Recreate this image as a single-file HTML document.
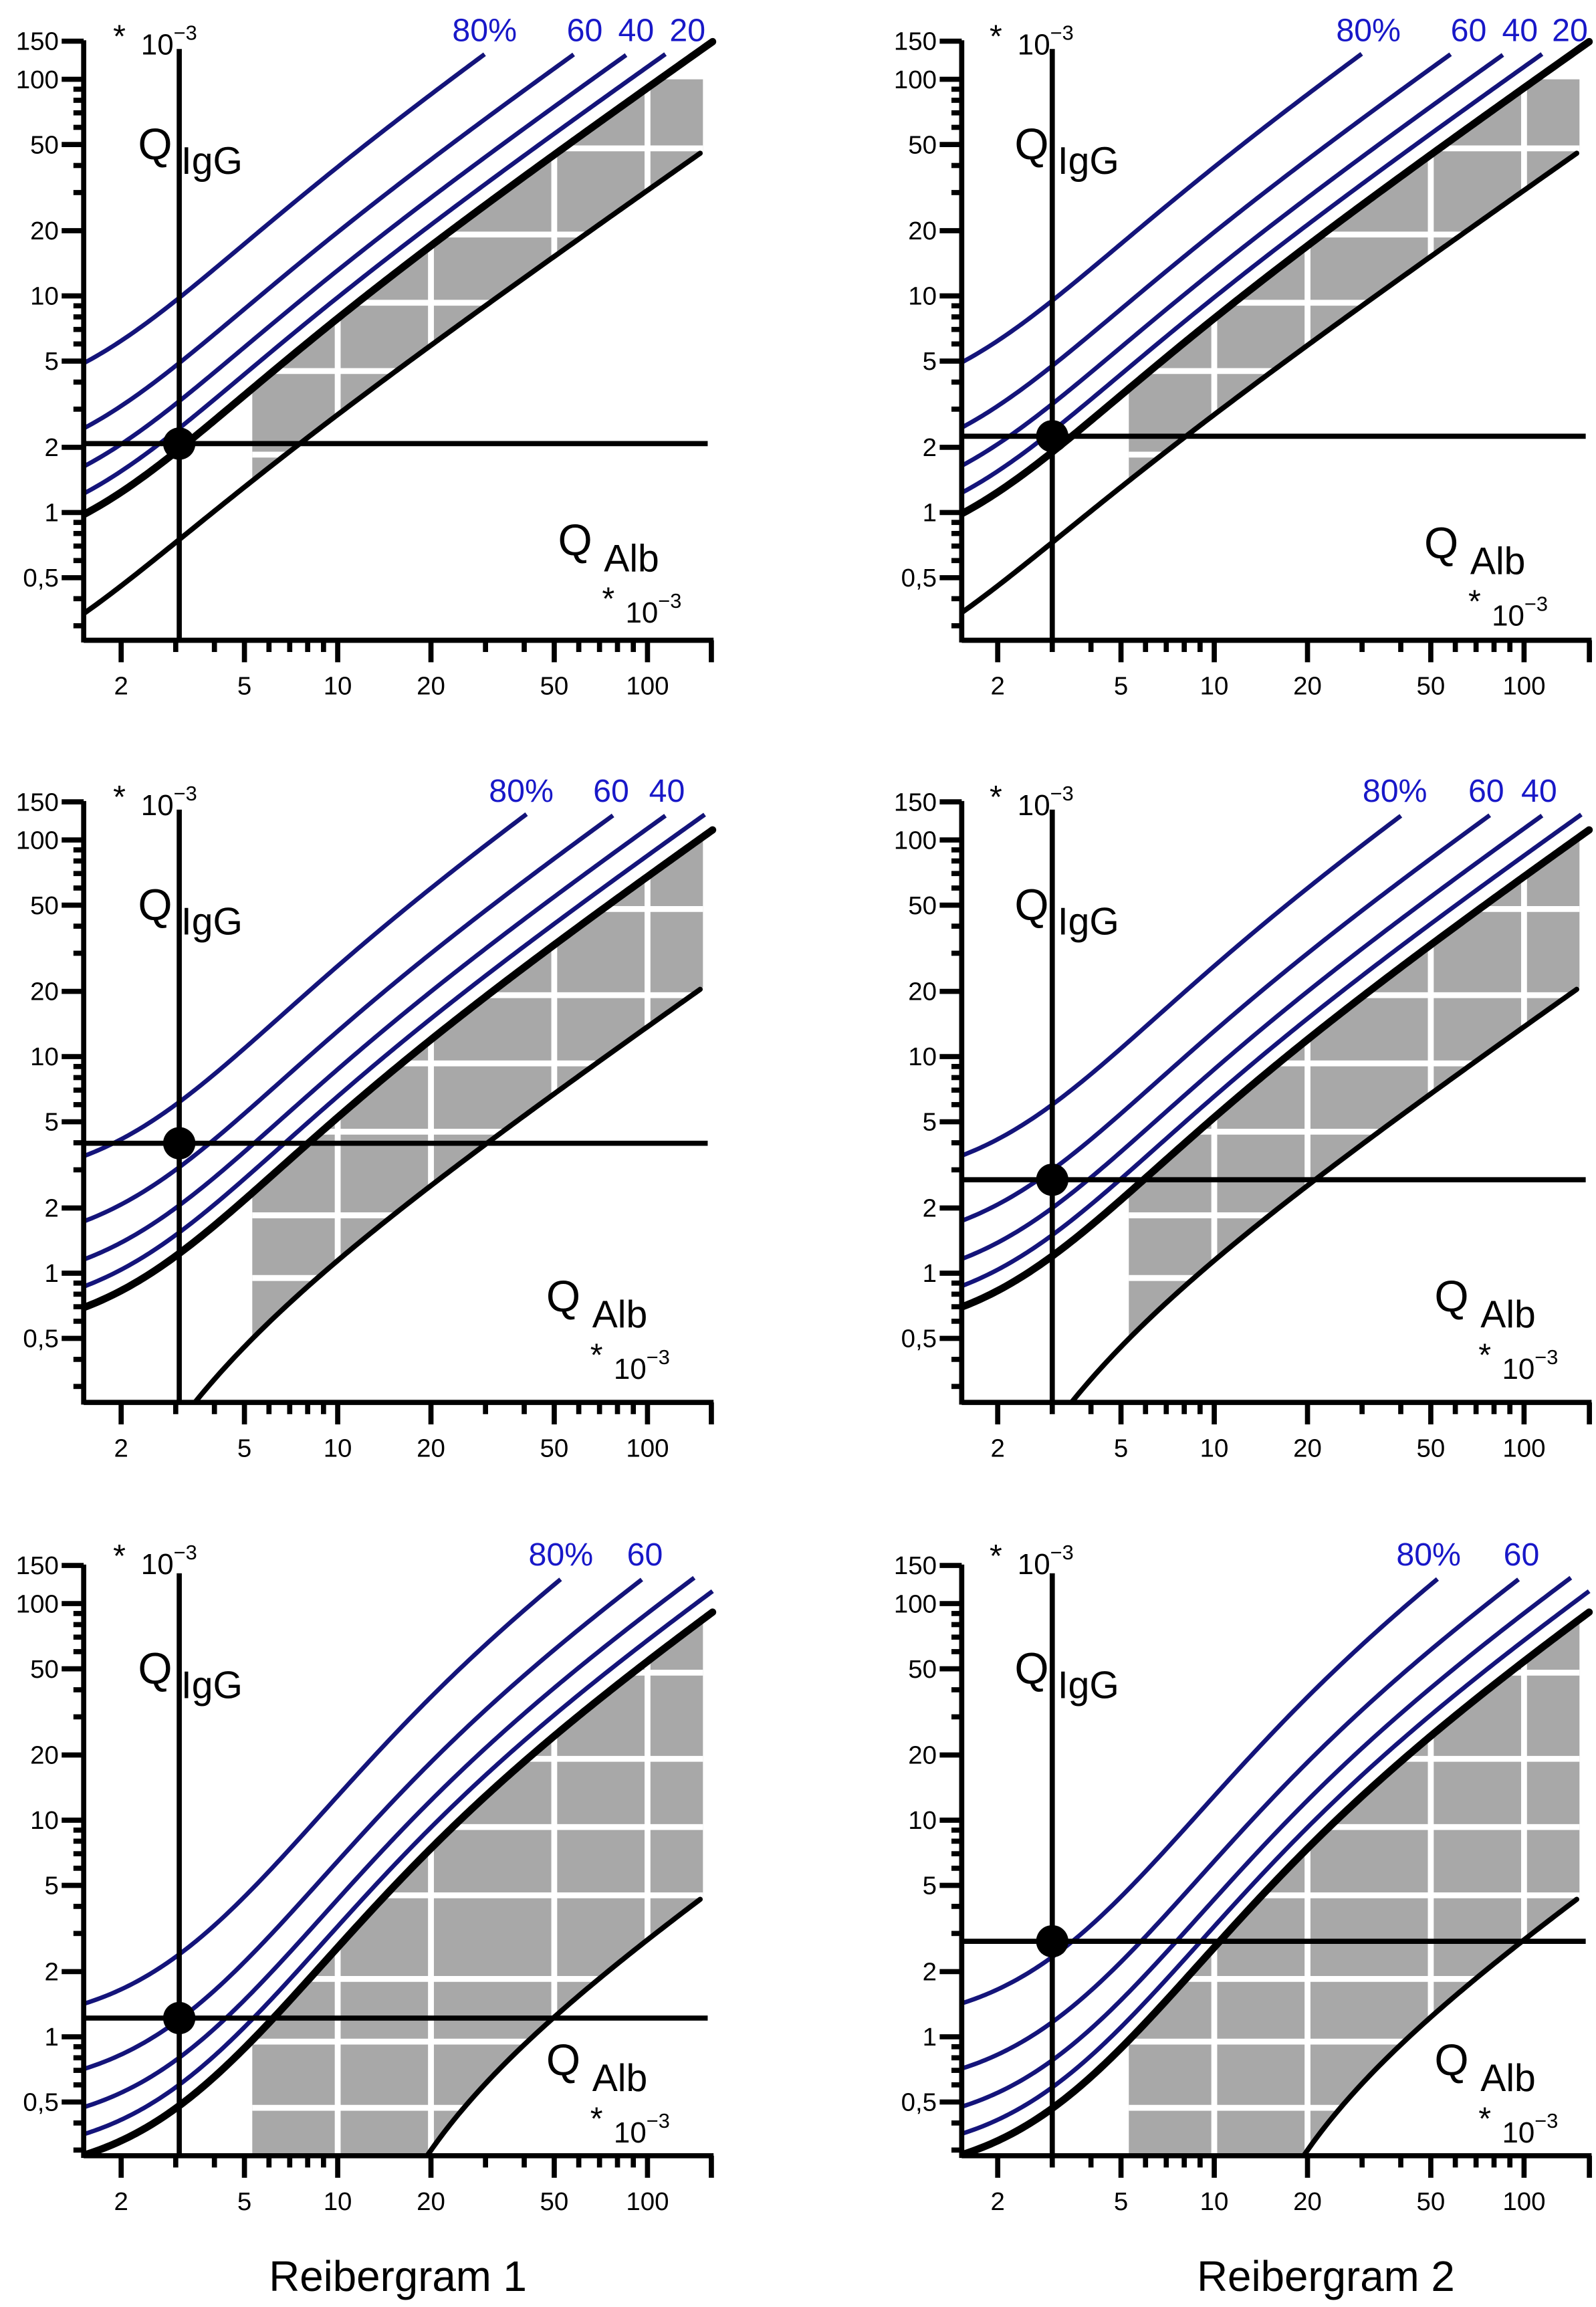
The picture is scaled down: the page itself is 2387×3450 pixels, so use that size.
<!DOCTYPE html>
<html><head><meta charset="utf-8"><title>Reibergrams</title>
<style>
html,body{margin:0;padding:0;background:#fff;overflow:hidden;width:2387px;height:3450px;}
svg{display:block;}
text{font-family:"Liberation Sans",Arial,sans-serif;}
</style></head>
<body>
<svg id="chart" xmlns="http://www.w3.org/2000/svg" width="2387" height="3450" viewBox="0 0 1087 1571" preserveAspectRatio="none">
<rect width="1087" height="1571" fill="#fff"/>
</svg>
<script>
// ---- data ----
const fractions = [20, 40, 60, 80];
const sampleAlb = [3.08, 3.0, 3.08, 3.0, 3.08, 3.0];
const sampleIgG = [2.08, 2.25, 3.98, 2.7, 1.22, 2.76];
const upperA = [0.93, 0.7, 0.6];
const upperB = [2.45, 4.0, 10.7];
const upperC = [1.7, 2.3, 6.2];
const lowerA = [0.31, 0.14, 0.0315];
const lowerB = [1.41, 1.41, 5.0];
const lowerC = [0.3, 0.27, 0.35];
const yTickValues = [150, 100, 50, 20, 10, 5, 2, 1, 0.5];
const yTickLabels = ["150", "100", "50", "20", "10", "5", "2", "1", "0,5"];
const xTickValues = [2, 5, 10, 20, 50, 100];
const xTickLabels = ["2", "5", "10", "20", "50", "100"];
const grayWhiteX = [10, 20, 50, 100];
const grayWhiteY = [0.47, 0.95, 1.85, 4.5, 9.3, 19.2, 48];
const visibleFractionLabels = [["20","40","60","80%"], ["40","60","80%"], ["60","80%"]];

// ---- layout ----
const NS = "http://www.w3.org/2000/svg";
const svg = document.getElementById("chart");
const DX = 211, DY = 147.5;
const panelX0 = [19, 616, 19, 616, 19, 616];
const panelY1 = [349, 349, 867, 867, 1387, 1387];
const axisBottom = [436, 436, 955, 955, 1468, 1468];
const axisLeftX = [57, 655, 57, 655, 57, 655];
const labelPos = [
  {"80%":[308,28],"60":[386,28],"40":[421,28],"20":[456,28]},
  {"80%":[910,28],"60":[988,28],"40":[1023,28],"20":[1057,28]},
  {"80%":[333,546],"60":[404,546],"40":[442,546]},
  {"80%":[928,546],"60":[1000,546],"40":[1036,546]},
  {"80%":[360,1066],"60":[427,1066]},
  {"80%":[951,1066],"60":[1024,1066]}
];
const qAlbPos = [[380,378],[970,380],[372,893],[977,893],[372,1413],[977,1413]];
const topStarY = [37,37,555,555,1072,1072];

function mk(tag, attrs, parent){
  const e = document.createElementNS(NS, tag);
  for (const k in attrs) e.setAttribute(k, attrs[k]);
  (parent||svg).appendChild(e);
  return e;
}
function hyp(a,b,c,x){ return a*Math.sqrt(x*x+b*b)-c; }

for (let p = 0; p < 6; p++) {
  const row = Math.floor(p/2);
  const x0 = panelX0[p], y1 = panelY1[p], ab = axisBottom[p], ax = axisLeftX[p];
  const sx = v => x0 + DX*Math.log10(v);
  const sy = v => y1 - DY*Math.log10(v);
  const yMinVal = Math.pow(10, (y1-ab)/DY);
  const xMinVal = Math.pow(10, (ax-x0)/DX);
  const g = mk("g", {});
  
  
  const clipId = "clip"+p;
  const cp = mk("clipPath", {id: clipId}, g);
  mk("rect", {x: ax, y: y1-2.3*DY, width: 440, height: ab-(y1-2.3*DY)}, cp);

  // gray region
  const U = x => hyp(upperA[row], upperB[row], upperC[row], x);
  const L = x => hyp(lowerA[row], lowerB[row], lowerC[row], x);
  const lx0 = Math.log10(5.3), lx1 = Math.log10(151);
  let top = [], bot = [];
  for (let i = 0; i <= 120; i++) {
    const x = Math.pow(10, lx0 + (lx1-lx0)*i/120);
    const u = Math.min(U(x), 100);
    let l = L(x); if (!(l > yMinVal)) l = yMinVal;
    if (u <= l) continue;
    top.push(sx(x).toFixed(2)+","+sy(u).toFixed(2));
    bot.push(sx(x).toFixed(2)+","+sy(l).toFixed(2));
  }
  const polyPts = top.concat(bot.reverse()).join(" ");
  const gcp = mk("clipPath", {id: "gclip"+p}, g);
  mk("polygon", {points: polyPts}, gcp);
  const gray = mk("polygon", {points: polyPts, fill: "#a8a8a8"}, g);
  
  
  const wg = mk("g", {"clip-path": "url(#gclip"+p+")", stroke: "#fff", "stroke-width": 4}, g);
  grayWhiteX.forEach(v => {
    const ln = mk("line", {x1: sx(v), x2: sx(v), y1: sy(200), y2: ab}, wg);
    
    
  });
  grayWhiteY.forEach(v => {
    const ln = mk("line", {x1: ax, x2: ax+440, y1: sy(v), y2: sy(v)}, wg);
    
    
  });

  // curves
  const cg = mk("g", {"clip-path": "url(#"+clipId+")", fill: "none"}, g);
  function curvePath(fn, xEndLog, yClipLog){
    let d = "", started = false;
    const a = Math.log10(xMinVal);
    for (let i = 0; i <= 240; i++) {
      const lx = a + (xEndLog - a)*i/240;
      const v = fn(Math.pow(10, lx));
      if (!(v > 0)) { started = false; continue; }
      if (Math.log10(v) > yClipLog) break;
      d += (started ? "L" : "M") + (x0+DX*lx).toFixed(2) + "," + sy(v).toFixed(2);
      started = true;
    }
    return d;
  }
  fractions.forEach(f => {
    const pth = mk("path", {d: curvePath(x => U(x)/(1-f/100), 2.21, 2.12), stroke: "#14147a", "stroke-width": 3}, cg);
    
    
  });
  const up = mk("path", {d: curvePath(U, 2.21, 2.2), stroke: "#000", "stroke-width": 5, "stroke-linecap": "round"}, cg);
  
  
  const lo = mk("path", {d: curvePath(L, 2.17, 2.2), stroke: "#000", "stroke-width": 3.5, "stroke-linecap": "round"}, cg);
  
  

  // sample lines & dot
  const vx = sx(sampleAlb[p]), hy = sy(sampleIgG[p]);
  const vl = mk("line", {x1: vx, x2: vx, y1: y1-2.14*DY, y2: ab, stroke: "#000", "stroke-width": 3.5}, g);
  
  
  const hl = mk("line", {x1: ax, x2: ax+425, y1: hy, y2: hy, stroke: "#000", "stroke-width": 3.5}, g);
  
  
  const dot = mk("circle", {cx: vx, cy: hy, r: 11, fill: "#000"}, g);
  
  

  // axes
  const axg = mk("g", {stroke: "#000", "stroke-width": 3.5}, g);
  const yTop = y1 - 2.18*DY;
  mk("line", {x1: ax, x2: ax, y1: yTop, y2: ab+1.5}, axg);
  const xEnd = ax + 429;
  mk("line", {x1: ax, x2: xEnd, y1: ab, y2: ab}, axg);
  for (let dec = 0.1; dec <= 100; dec *= 10) {
    for (let m = 1; m <= 9; m++) {
      const v = +(dec*m).toPrecision(3);
      if (v < yMinVal || v > 151) continue;
      const maj = yTickValues.includes(v);
      const t = mk("line", {x1: ax-(maj?15:7), x2: ax, y1: sy(v), y2: sy(v)}, axg);
      
      
    }
  }
  mk("line", {x1: ax-15, x2: ax, y1: sy(150), y2: sy(150)}, axg);
  for (let dec = 1; dec <= 100; dec *= 10) {
    for (let m = 1; m <= 9; m++) {
      const v = dec*m;
      if (v < 1.9 || sx(v) > xEnd+1) continue;
      const maj = xTickValues.includes(v);
      const t = mk("line", {x1: sx(v), x2: sx(v), y1: ab, y2: ab+(maj?15:8)}, axg);
      
      
    }
  }
  mk("line", {x1: xEnd-1.5, x2: xEnd-1.5, y1: ab, y2: ab+15}, axg);

  // tick labels
  yTickValues.forEach((v,i) => {
    const t = mk("text", {x: ax-17, y: sy(v)+6, "font-size": 17.5, "text-anchor": "end"}, g);
    t.textContent = yTickLabels[i];
    
    
  });
  xTickValues.forEach((v,i) => {
    const t = mk("text", {x: sx(v), y: ab+37, "font-size": 17.5, "text-anchor": "middle"}, g);
    t.textContent = xTickLabels[i];
    
    
  });

  // fraction labels
  visibleFractionLabels[row].forEach(lbl => {
    const pos = labelPos[p][lbl];
    const t = mk("text", {x: pos[0], y: pos[1], "font-size": 22, fill: "#1818c8"}, g);
    t.textContent = lbl;
    
    
  });

  // axis titles
  const offX = (p%2) ? 597 : 0;
  const ty = topStarY[p];
  const ys = mk("text", {x: 77+offX, y: ty-5, "font-size": 22}, g);
  ys.textContent = "*";
  
  
  const yu = mk("text", {x: 96+offX, y: ty, "font-size": 20}, g);
  yu.innerHTML = '10<tspan font-size="14" dy="-10">−3</tspan>';
  
  
  const qi = mk("text", {x: 94+offX, y: y1 - 1.72*DY + 13, "font-size": 30}, g);
  qi.innerHTML = 'Q<tspan font-size="26" dx="6" dy="10">IgG</tspan>';
  
  
  const qp = qAlbPos[p];
  const qa = mk("text", {x: qp[0], y: qp[1], "font-size": 30}, g);
  qa.innerHTML = 'Q<tspan font-size="26" dx="8" dy="11">Alb</tspan>';
  
  
  const st = mk("text", {x: qp[0]+30, y: qp[1]+37, "font-size": 22}, g);
  st.textContent = "*";
  
  
  const xu = mk("text", {x: qp[0]+46, y: qp[1]+46, "font-size": 20}, g);
  xu.innerHTML = '10<tspan font-size="14" dy="-10">−3</tspan>';
  
  
}

const c1 = mk("text", {x: 271, y: 1560, "font-size": 29, "text-anchor": "middle"});
c1.textContent = "Reibergram 1";


const c2 = mk("text", {x: 903, y: 1560, "font-size": 29, "text-anchor": "middle"});
c2.textContent = "Reibergram 2";


</script>
</body></html>
